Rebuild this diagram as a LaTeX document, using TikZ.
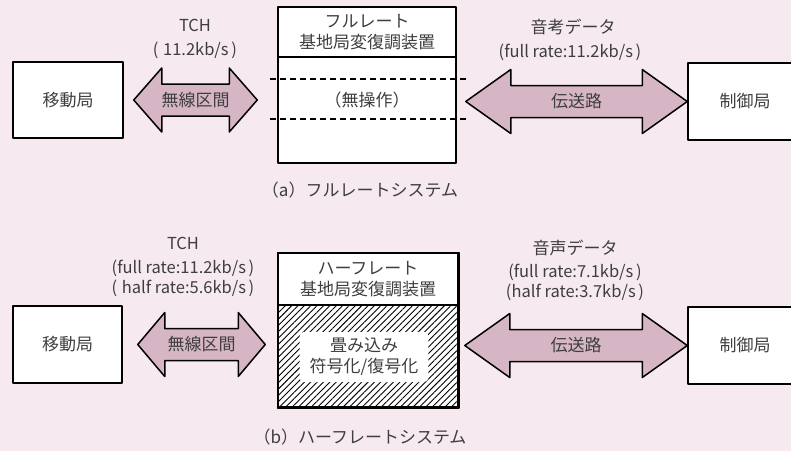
\documentclass[tikz,border=0pt]{standalone}
\usepackage{fontspec}
\setmainfont{Noto Sans CJK JP}
\usetikzlibrary{calc,patterns.meta}
\definecolor{bgpink}{RGB}{246,234,240}
\definecolor{arrowpink}{RGB}{214,181,197}
\definecolor{ink}{RGB}{62,62,62}
% wide double arrow between two tips: #1,#2 tips, #3 head length, #4 name, #5 text
\newcommand{\widearrow}[5]{%
  \draw[widearrow] let \p1=(#1), \p2=(#2) in
    (\x1,\y1) -- (\x1+#3,\y1+\hh) -- (\x1+#3,\y1+\hs) -- (\x2-#3,\y1+\hs)
    -- (\x2-#3,\y1+\hh) -- (\x2,\y1) -- (\x2-#3,\y1-\hh) -- (\x2-#3,\y1-\hs)
    -- (\x1+#3,\y1-\hs) -- (\x1+#3,\y1-\hh) -- cycle;
  \node[lbl] (#4) at ($(#1)!.5!(#2)$) {#5};}
\begin{document}
\begin{tikzpicture}[x=1pt,y=-1pt, font=\fontsize{17}{21}\selectfont, line join=round,
  box/.style={draw, line width=1.5pt, fill=white, text=ink, inner sep=0pt},
  widearrow/.style={draw, line width=1.5pt, fill=arrowpink},
  lbl/.style={text=ink, align=center, inner sep=1pt},
  rate/.style={lbl, font=\fontsize{16.5}{20}\selectfont},
  dashline/.style={line width=1.5pt, dash pattern=on 6pt off 4pt}]
	\def\hh{32pt} \def\hs{16pt} % head / shaft half width
	\fill[bgpink] (0,0) rectangle (791,451);
	\useasboundingbox (0,0) rectangle (791,451);
	\clip (0,0) rectangle (791,451);
	% (a)
	\node[box, minimum width=110pt, minimum height=76pt] (mobA) at (68,100) {移動局};
	\node[box, minimum width=178pt, minimum height=156pt] (baseA) at (367,85) {};
	\node[box, minimum width=114pt, minimum height=77pt] (ctrlA) at (745,101.5) {制御局};
	\draw[line width=1.5pt] (baseA.west |- 0,57) -- (baseA.east |- 0,57);
	\node[lbl] (titleA) at (367,32) {フルレート\\基地局変復調装置};
	\draw[dashline] (270,79) -- (467,79);
	\draw[dashline] (270,119) -- (467,119);
	\node[lbl] (nopA) at (367,100) {（無操作）};
	\coordinate (a1) at ($(mobA.east)+(10,0)$);
	\coordinate (a2) at ($(baseA.west |- a1)+(-20,0)$);
	\coordinate (a3) at ($(baseA.east |- ctrlA.west)+(9,0)$);
	\coordinate (a4) at (ctrlA.west);
	\widearrow{a1}{a2}{28pt}{radioA}{無線区間}
	\widearrow{a3}{a4}{45pt}{lineA}{伝送路}
	\node[rate] (tchA) at (195,25) {TCH};
	\node[rate] (tchrA) at (195,50) {(\;11.2kb/s\,)};
	\node[lbl] (dataA) at (573,27) {音考データ};
	\node[rate] (datarA) at (570,52) {(full rate:11.2kb/s\,)};
	\node[lbl] (capA) at (360,190) {（a）フルレートシステム};
	% (b)
	\node[box, minimum width=109pt, minimum height=77pt] (mobB) at (67.5,344.5) {移動局};
	\node[box, minimum width=180pt, minimum height=154pt] (baseB) at (368,330) {};
	\fill[pattern={Lines[angle=45,distance=4.5pt,line width=0.9pt]}] (baseB.west |- 0,305) rectangle (baseB.south east);
	\draw[line width=1.5pt] (baseB.west |- 0,305) -- (baseB.east |- 0,305);
	\draw[line width=1.5pt] (baseB.north west) rectangle (baseB.south east);
	\node[box, minimum width=114pt, minimum height=77pt] (ctrlB) at (745,345.5) {制御局};
	\node[lbl] (titleB) at (368,279) {ハーフレート\\基地局変復調装置};
	\node[lbl, fill=white, inner xsep=10pt, inner ysep=6pt, rounded corners=4pt] (convB) at (364,357) {畳み込み\\符号化/復号化};
	\coordinate (b1) at ($(mobB.east)+(15,0)$);
	\coordinate (b2) at ($(baseB.west |- b1)+(-12,0)$);
	\coordinate (b3) at ($(baseB.east |- ctrlB.west)+(6,0)$);
	\coordinate (b4) at (ctrlB.west);
	\widearrow{b1}{b2}{27pt}{radioB}{無線区間}
	\widearrow{b3}{b4}{45pt}{lineB}{伝送路}
	\node[rate] (tchB) at (183,243) {TCH};
	\node[rate] (tchfB) at (183,268) {(full rate:11.2kb/s\,)};
	\node[rate] (tchhB) at (183,288) {(\;half rate:5.6kb/s\,)};
	\node[lbl] (dataB) at (575,248) {音声データ};
	\node[rate] (datafB) at (575,272) {(full rate:7.1kb/s\,)};
	\node[rate] (datahB) at (575,292) {(half rate:3.7kb/s\,)};
	\node[lbl] (capB) at (360,437) {（b）ハーフレートシステム};
\end{tikzpicture}
\end{document}
